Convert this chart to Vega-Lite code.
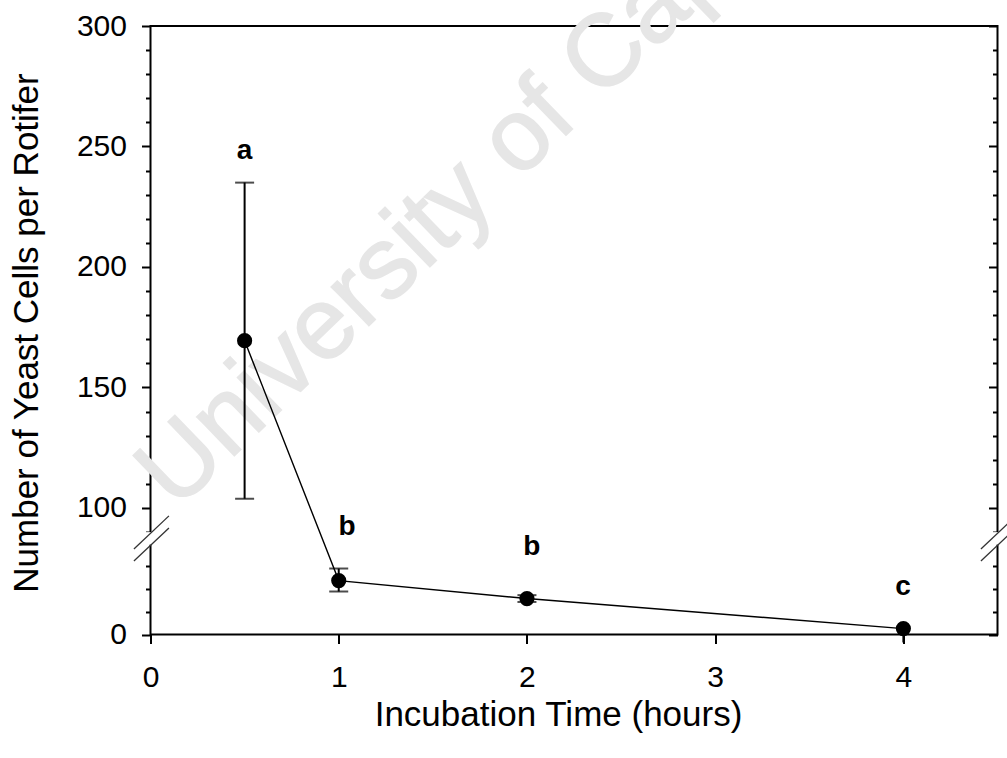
{
  "$schema": "https://vega.github.io/schema/vega-lite/v6.json",
  "width": 847,
  "height": 608.5,
  "autosize": {"type": "none"},
  "padding": {"left": 150.5, "top": 26, "right": 9.5, "bottom": 123.5},
  "background": "white",
  "config": {
    "view": {"stroke": "black", "strokeWidth": 2},
    "font": "Liberation Sans",
    "axis": {
      "domain": false,
      "grid": false,
      "tickColor": "black",
      "tickWidth": 2,
      "labelColor": "black",
      "titleColor": "black",
      "labelFont": "Liberation Sans",
      "titleFont": "Liberation Sans",
      "labelFontSize": 30,
      "titleFontSize": 35,
      "titleFontWeight": "normal",
      "labelFlush": false,
      "labelOverlap": false
    }
  },
  "datasets": {
    "obs": [
      {"t": 0.5, "mean": 169.4, "lo": 103.8, "hi": 235.0},
      {"t": 1, "mean": 23.7, "lo": 18.9, "hi": 29.0},
      {"t": 2, "mean": 15.8, "lo": 14.3, "hi": 17.3},
      {"t": 4, "mean": 2.6, "lo": -3.5, "hi": 5.5}
    ],
    "letters": [
      {"t": 0.5, "y": 248, "label": "a"},
      {"t": 1.044, "y": 92, "label": "b"},
      {"t": 2.026, "y": 38.6, "label": "b"},
      {"t": 3.998, "y": 21, "label": "c"}
    ],
    "gaps": [
      {"x1": -0.06, "x2": 0.06},
      {"x1": 4.44, "x2": 4.56}
    ],
    "slashes": [
      {"x1": -0.088, "x2": 0.098, "y1": 37.6, "y2": 96.7},
      {"x1": -0.088, "x2": 0.098, "y1": 32.3, "y2": 91.7},
      {"x1": 4.412, "x2": 4.598, "y1": 37.6, "y2": 96.7},
      {"x1": 4.412, "x2": 4.598, "y1": 32.3, "y2": 91.7}
    ],
    "watermark": [
      {"t": 2.12, "y": 266, "text": "University of Cape Town"}
    ]
  },
  "layer": [
    {
      "data": {"name": "watermark"},
      "mark": {"type": "text", "angle": -44, "fontSize": 102, "font": "Liberation Sans", "color": "#e6e6e6", "stroke": "#e6e6e6", "strokeWidth": 1.5, "align": "center", "baseline": "middle"},
      "encoding": {
        "x": {"field": "t", "type": "quantitative", "scale": {"domain": [0, 4.5], "nice": false, "zero": false}, "axis": {"values": [0, 1, 2, 3, 4], "title": "Incubation Time (hours)", "tickSize": 9, "labelPadding": 19, "titleX": 407.5, "titleY": 63, "titleBaseline": "top", "titleAlign": "center"}},
        "y": {"field": "y", "type": "quantitative", "scale": {"type": "linear", "domain": [0, 40, 90, 300], "range": [608.5, 517.5, 506, 0], "zero": false, "nice": false}, "axis": null},
        "text": {"field": "text"}
      }
    },
    {
      "data": {"name": "obs"},
      "mark": {"type": "rule", "color": "black", "strokeWidth": 2},
      "encoding": {
        "x": {"field": "t", "type": "quantitative", "scale": {"domain": [0, 4.5], "nice": false, "zero": false}, "axis": {"values": [0, 1, 2, 3, 4], "title": "Incubation Time (hours)"}},
        "y": {"field": "lo", "type": "quantitative", "scale": {"type": "linear", "domain": [0, 40, 90, 300], "range": [608.5, 517.5, 506, 0], "zero": false, "nice": false}, "axis": null},
        "y2": {"field": "hi"}
      }
    },
    {
      "data": {"name": "obs"},
      "transform": [{"filter": "datum.t < 4"}],
      "mark": {"type": "tick", "orient": "horizontal", "color": "black", "size": 19, "thickness": 2},
      "encoding": {
        "x": {"field": "t", "type": "quantitative", "scale": {"domain": [0, 4.5], "nice": false, "zero": false}, "axis": {"values": [0, 1, 2, 3, 4], "title": "Incubation Time (hours)"}},
        "y": {"field": "hi", "type": "quantitative", "scale": {"type": "linear", "domain": [0, 40, 90, 300], "range": [608.5, 517.5, 506, 0], "zero": false, "nice": false}, "axis": null}
      }
    },
    {
      "data": {"name": "obs"},
      "transform": [{"filter": "datum.t < 4"}],
      "mark": {"type": "tick", "orient": "horizontal", "color": "black", "size": 19, "thickness": 2},
      "encoding": {
        "x": {"field": "t", "type": "quantitative", "scale": {"domain": [0, 4.5], "nice": false, "zero": false}, "axis": {"values": [0, 1, 2, 3, 4], "title": "Incubation Time (hours)"}},
        "y": {"field": "lo", "type": "quantitative", "scale": {"type": "linear", "domain": [0, 40, 90, 300], "range": [608.5, 517.5, 506, 0], "zero": false, "nice": false}, "axis": null}
      }
    },
    {
      "data": {"name": "obs"},
      "mark": {"type": "line", "color": "black", "strokeWidth": 1.4},
      "encoding": {
        "x": {"field": "t", "type": "quantitative", "scale": {"domain": [0, 4.5], "nice": false, "zero": false}, "axis": {"values": [0, 1, 2, 3, 4], "title": "Incubation Time (hours)"}},
        "y": {"field": "mean", "type": "quantitative", "scale": {"type": "linear", "domain": [0, 40, 90, 300], "range": [608.5, 517.5, 506, 0], "zero": false, "nice": false},
          "axis": {"orient": "right", "values": [0, 10, 20, 30, 90, 100, 110, 120, 130, 140, 150, 160, 170, 180, 190, 200, 210, 220, 230, 240, 250, 260, 270, 280, 290, 300], "labels": false, "title": null,
            "tickSize": {"condition": {"test": "datum.value % 50 === 0", "value": -9}, "value": -5}}}
      }
    },
    {
      "data": {"name": "obs"},
      "mark": {"type": "point", "shape": "circle", "filled": true, "color": "black", "opacity": 1, "size": 230},
      "encoding": {
        "x": {"field": "t", "type": "quantitative", "scale": {"domain": [0, 4.5], "nice": false, "zero": false}, "axis": {"values": [0, 1, 2, 3, 4], "title": "Incubation Time (hours)"}},
        "y": {"field": "mean", "type": "quantitative", "scale": {"type": "linear", "domain": [0, 40, 90, 300], "range": [608.5, 517.5, 506, 0], "zero": false, "nice": false},
          "axis": {"orient": "left", "values": [0, 10, 20, 30, 90, 100, 110, 120, 130, 140, 150, 160, 170, 180, 190, 200, 210, 220, 230, 240, 250, 260, 270, 280, 290, 300],
            "labelExpr": "datum.value % 50 === 0 ? datum.label : ''",
            "tickSize": {"condition": {"test": "datum.value % 50 === 0", "value": 9}, "value": 5},
            "labelPadding": 15, "title": "Number of Yeast Cells per Rotifer",
            "titleX": -113.5, "titleY": 306.5, "titleBaseline": "alphabetic", "titleAlign": "center", "titleAngle": -90}}
      }
    },
    {
      "data": {"name": "letters"},
      "mark": {"type": "text", "fontSize": 28, "fontWeight": "bold", "font": "Liberation Sans", "color": "black", "align": "center", "baseline": "middle"},
      "encoding": {
        "x": {"field": "t", "type": "quantitative", "scale": {"domain": [0, 4.5], "nice": false, "zero": false}, "axis": {"values": [0, 1, 2, 3, 4], "title": "Incubation Time (hours)"}},
        "y": {"field": "y", "type": "quantitative", "scale": {"type": "linear", "domain": [0, 40, 90, 300], "range": [608.5, 517.5, 506, 0], "zero": false, "nice": false}, "axis": null},
        "text": {"field": "label"}
      }
    },
    {
      "data": {"name": "gaps"},
      "mark": {"type": "rect", "color": "white", "opacity": 1},
      "encoding": {
        "x": {"field": "x1", "type": "quantitative", "scale": {"domain": [0, 4.5], "nice": false, "zero": false}, "axis": {"values": [0, 1, 2, 3, 4], "title": "Incubation Time (hours)"}},
        "x2": {"field": "x2"},
        "y": {"datum": 39.5, "type": "quantitative", "scale": {"type": "linear", "domain": [0, 40, 90, 300], "range": [608.5, 517.5, 506, 0], "zero": false, "nice": false}, "axis": null},
        "y2": {"datum": 89.5}
      }
    },
    {
      "data": {"name": "slashes"},
      "mark": {"type": "rule", "color": "#333333", "strokeWidth": 1.3},
      "encoding": {
        "x": {"field": "x1", "type": "quantitative", "scale": {"domain": [0, 4.5], "nice": false, "zero": false}, "axis": {"values": [0, 1, 2, 3, 4], "title": "Incubation Time (hours)"}},
        "x2": {"field": "x2"},
        "y": {"field": "y1", "type": "quantitative", "scale": {"type": "linear", "domain": [0, 40, 90, 300], "range": [608.5, 517.5, 506, 0], "zero": false, "nice": false}, "axis": null},
        "y2": {"field": "y2"}
      }
    }
  ],
  "resolve": {"scale": {"y": "independent"}}
}
